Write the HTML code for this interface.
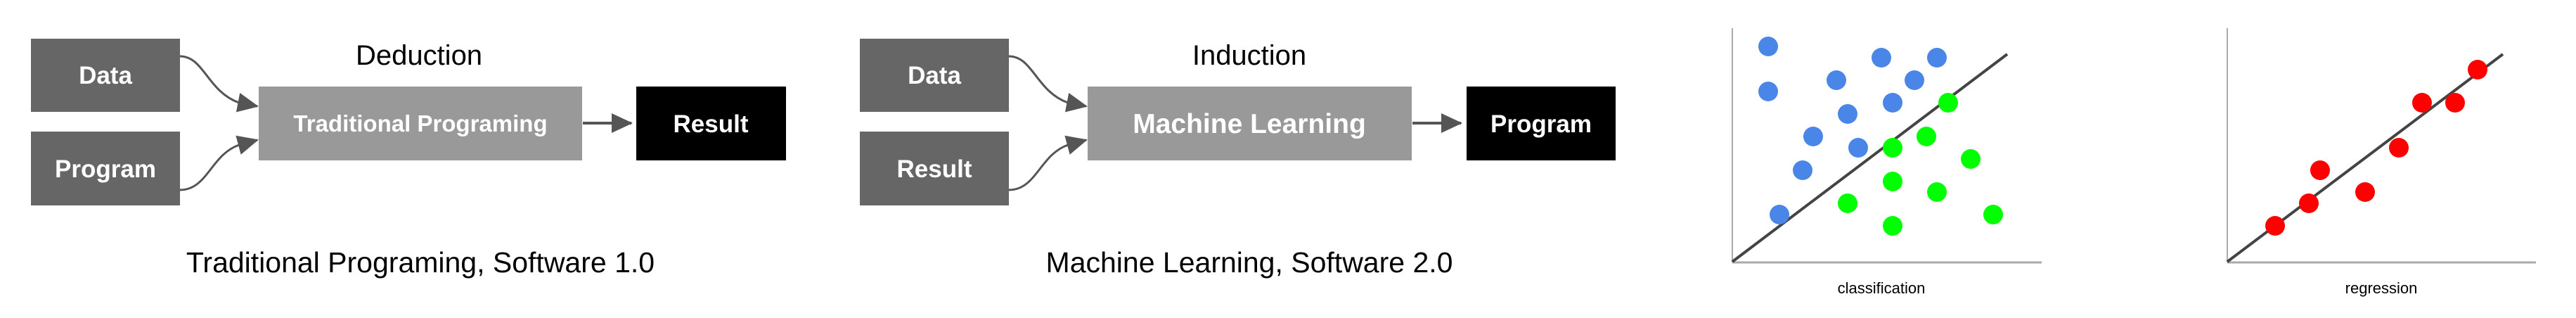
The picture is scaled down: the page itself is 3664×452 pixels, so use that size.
<!DOCTYPE html>
<html><head><meta charset="utf-8"><style>
html,body{margin:0;padding:0;background:#fff;}
svg{display:block;}
text{font-family:"Liberation Sans",Arial,sans-serif;}
</style></head><body>
<svg width="3664" height="452" viewBox="0 0 3664 452" xmlns="http://www.w3.org/2000/svg">
<defs>
<marker id="ah" markerUnits="userSpaceOnUse" markerWidth="30" markerHeight="28" refX="28" refY="14" orient="auto">
<path d="M0,0 L30,14 L0,28 Z" fill="#555"/>
</marker>
</defs>
<!-- Panel 1 -->
<rect x="44" y="55" width="212" height="104" fill="#666"/>
<rect x="44" y="187" width="212" height="105" fill="#666"/>
<rect x="368" y="123" width="460" height="105" fill="#999"/>
<rect x="905" y="123" width="213" height="105" fill="#000"/>
<path d="M256,80 C290,80 295,130 340,146 L366,151" fill="none" stroke="#555" stroke-width="3" marker-end="url(#ah)"/>
<path d="M256,270 C295,270 300,220 340,206 L366,199" fill="none" stroke="#555" stroke-width="3" marker-end="url(#ah)"/>
<line x1="829" y1="175" x2="898" y2="175" stroke="#555" stroke-width="4" marker-end="url(#ah)"/>
<text x="596" y="92" font-size="40" text-anchor="middle" fill="#000">Deduction</text>
<text x="150" y="119" font-size="35" font-weight="bold" text-anchor="middle" fill="#fff">Data</text>
<text x="150" y="252" font-size="35" font-weight="bold" text-anchor="middle" fill="#fff">Program</text>
<text x="598" y="187" font-size="33" font-weight="bold" text-anchor="middle" fill="#fff">Traditional Programing</text>
<text x="1011" y="188" font-size="35" font-weight="bold" text-anchor="middle" fill="#fff">Result</text>
<text x="598" y="387" font-size="41" text-anchor="middle" fill="#000">Traditional Programing, Software 1.0</text>
<!-- Panel 2 -->
<rect x="1223" y="55" width="212" height="104" fill="#666"/>
<rect x="1223" y="187" width="212" height="105" fill="#666"/>
<rect x="1547" y="123" width="461" height="105" fill="#999"/>
<rect x="2086" y="123" width="212" height="105" fill="#000"/>
<path d="M1435,80 C1469,80 1474,130 1519,146 L1545,151" fill="none" stroke="#555" stroke-width="3" marker-end="url(#ah)"/>
<path d="M1435,270 C1474,270 1479,220 1519,206 L1545,199" fill="none" stroke="#555" stroke-width="3" marker-end="url(#ah)"/>
<line x1="2009" y1="175" x2="2078" y2="175" stroke="#555" stroke-width="4" marker-end="url(#ah)"/>
<text x="1777" y="92" font-size="40" text-anchor="middle" fill="#000">Induction</text>
<text x="1329" y="119" font-size="35" font-weight="bold" text-anchor="middle" fill="#fff">Data</text>
<text x="1329" y="252" font-size="35" font-weight="bold" text-anchor="middle" fill="#fff">Result</text>
<text x="1777" y="189" font-size="39" font-weight="bold" text-anchor="middle" fill="#fff">Machine Learning</text>
<text x="2192" y="188" font-size="35" font-weight="bold" text-anchor="middle" fill="#fff">Program</text>
<text x="1777" y="387" font-size="41" text-anchor="middle" fill="#000">Machine Learning, Software 2.0</text>
<!-- Classification -->
<line x1="2464" y1="40" x2="2464" y2="373" stroke="#aaa" stroke-width="2"/>
<line x1="2464" y1="373" x2="2904" y2="373" stroke="#aaa" stroke-width="3"/>
<line x1="2464" y1="372" x2="2855" y2="77" stroke="#444" stroke-width="4"/>
<g fill="#4a86e8">
<circle cx="2515" cy="66" r="14"/><circle cx="2676" cy="82" r="14"/><circle cx="2755" cy="82" r="14"/>
<circle cx="2612" cy="114" r="14"/><circle cx="2723" cy="114" r="14"/><circle cx="2515" cy="130" r="14"/>
<circle cx="2692" cy="146" r="14"/><circle cx="2628" cy="162" r="14"/><circle cx="2579" cy="194" r="14"/>
<circle cx="2643" cy="210" r="14"/><circle cx="2564" cy="242" r="14"/><circle cx="2531" cy="305" r="14"/>
</g>
<g fill="#00ff00">
<circle cx="2771" cy="146" r="14"/><circle cx="2740" cy="194" r="14"/><circle cx="2692" cy="210" r="14"/>
<circle cx="2803" cy="226" r="14"/><circle cx="2692" cy="258" r="14"/><circle cx="2755" cy="273" r="14"/>
<circle cx="2628" cy="289" r="14"/><circle cx="2835" cy="305" r="14"/><circle cx="2692" cy="321" r="14"/>
</g>
<text x="2676" y="417" font-size="22" text-anchor="middle" fill="#000">classification</text>
<!-- Regression -->
<line x1="3168" y1="40" x2="3168" y2="373" stroke="#aaa" stroke-width="2"/>
<line x1="3168" y1="373" x2="3607" y2="373" stroke="#aaa" stroke-width="3"/>
<line x1="3168" y1="372" x2="3560" y2="77" stroke="#444" stroke-width="4"/>
<g fill="#ff0000">
<circle cx="3524" cy="99" r="14"/><circle cx="3445" cy="146" r="14"/><circle cx="3492" cy="146" r="14"/>
<circle cx="3412" cy="210" r="14"/><circle cx="3300" cy="242" r="14"/><circle cx="3364" cy="273" r="14"/>
<circle cx="3284" cy="289" r="14"/><circle cx="3236" cy="321" r="14"/>
</g>
<text x="3387" y="417" font-size="22" text-anchor="middle" fill="#000">regression</text>
</svg>
</body></html>
